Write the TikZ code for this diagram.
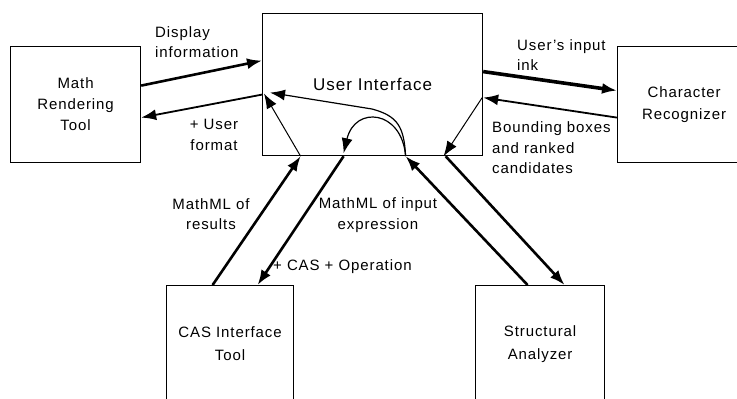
\documentclass[tikz,border=0pt]{standalone}
\usepackage{fontspec}
\setmainfont{Liberation Sans}[LetterSpace=6]
\usetikzlibrary{arrows.meta}
\begin{document}
\begin{tikzpicture}[x=1pt,y=-1pt,
  box/.style={draw,line width=1.2pt,inner sep=0pt,anchor=north west,align=center},
  lbl/.style={inner sep=0pt,font=\fontsize{15}{20.5}\selectfont},
  tip/.style={-{Latex[length=15pt,width=11pt]}},
  fat/.style={tip,line width=2.6pt},
  huge/.style={tip,line width=3.6pt},
  mid/.style={tip,line width=1.8pt},
  thin/.style={tip,line width=1pt}]
\useasboundingbox (0,0) rectangle (737,399);
\clip (0,0) rectangle (737,399);
\fill[white] (0,0) rectangle (737,399);
% boxes
\node[box,minimum width=130pt,minimum height=116pt,font=\fontsize{15}{21}\selectfont] (mrt) at (10,46) {Math\\Rendering\\Tool};
\node[box,minimum width=220pt,minimum height=142pt,font=\fontsize{17}{21}\selectfont] (ui) at (262,13) {User Interface};
\node[box,minimum width=133pt,minimum height=116pt,font=\fontsize{15}{22}\selectfont] (cr) at (617,46) {Character\\Recognizer};
\node[box,minimum width=127pt,minimum height=117pt,font=\fontsize{15}{23}\selectfont] (cas) at (166,285) {CAS Interface\\Tool};
\node[box,minimum width=129pt,minimum height=117pt,font=\fontsize{15}{23}\selectfont] (sa) at (475,285) {Structural\\Analyzer};
% connectors with Math Rendering Tool
\draw[fat] ([yshift=19pt]mrt.east) -- ([yshift=24pt]ui.west);
\draw[mid] ([yshift=-10pt]ui.west) -- ([yshift=-13pt]mrt.east);
% connectors with Character Recognizer
\draw[huge] ([yshift=13pt]ui.east) -- ([yshift=14pt]cr.west);
\draw[mid] ([yshift=-13pt]cr.west) -- ([yshift=-13pt]ui.east);
\draw[thin] ([xshift=-1pt,yshift=-13pt]ui.east) -- ([xshift=71pt]ui.south);
% connectors with CAS Interface Tool
\draw[fat] ([xshift=-17.5pt]cas.north) -- ([xshift=-72pt]ui.south);
\draw[thin] ([xshift=-72pt]ui.south) -- ([xshift=2pt,yshift=-9pt]ui.west);
\draw[fat] ([xshift=-29pt]ui.south) -- ([xshift=27.5pt]cas.north);
% connectors with Structural Analyzer
\draw[fat] ([xshift=-12.5pt]sa.north) -- ([xshift=33pt]ui.south);
\draw[fat] ([xshift=73pt]ui.south) -- ([xshift=24.5pt]sa.north);
% curves inside the user interface
\coordinate (c0) at ([xshift=33pt]ui.south);
\draw[thin,line width=1.2pt] (c0) .. controls (404,127) and (398,116) .. (372,109) -- ([xshift=8pt,yshift=-8pt]ui.west);
\draw[thin,line width=1.2pt] (c0) .. controls (402,110) and (355,105) .. ([xshift=-29pt,yshift=3pt]ui.south);
% labels
\node[lbl,anchor=west,align=left] (l1) at (155,42) {Display\\information};
\node[lbl,align=center] (l2) at (214,135) {+ User\\format};
\node[lbl,anchor=west,align=left] (l3) at (517,55) {User’s input\\ink};
\node[lbl,anchor=west,align=left] (l4) at (492,148) {Bounding boxes\\and ranked\\candidates};
\node[lbl,align=center] (l5) at (211,214) {MathML of\\results};
\node[lbl,align=center] (l6) at (378,215) {MathML of input\\expression};
\node[lbl,anchor=west] (l7) at (273,267) {+ CAS + Operation};
\end{tikzpicture}
\end{document}
